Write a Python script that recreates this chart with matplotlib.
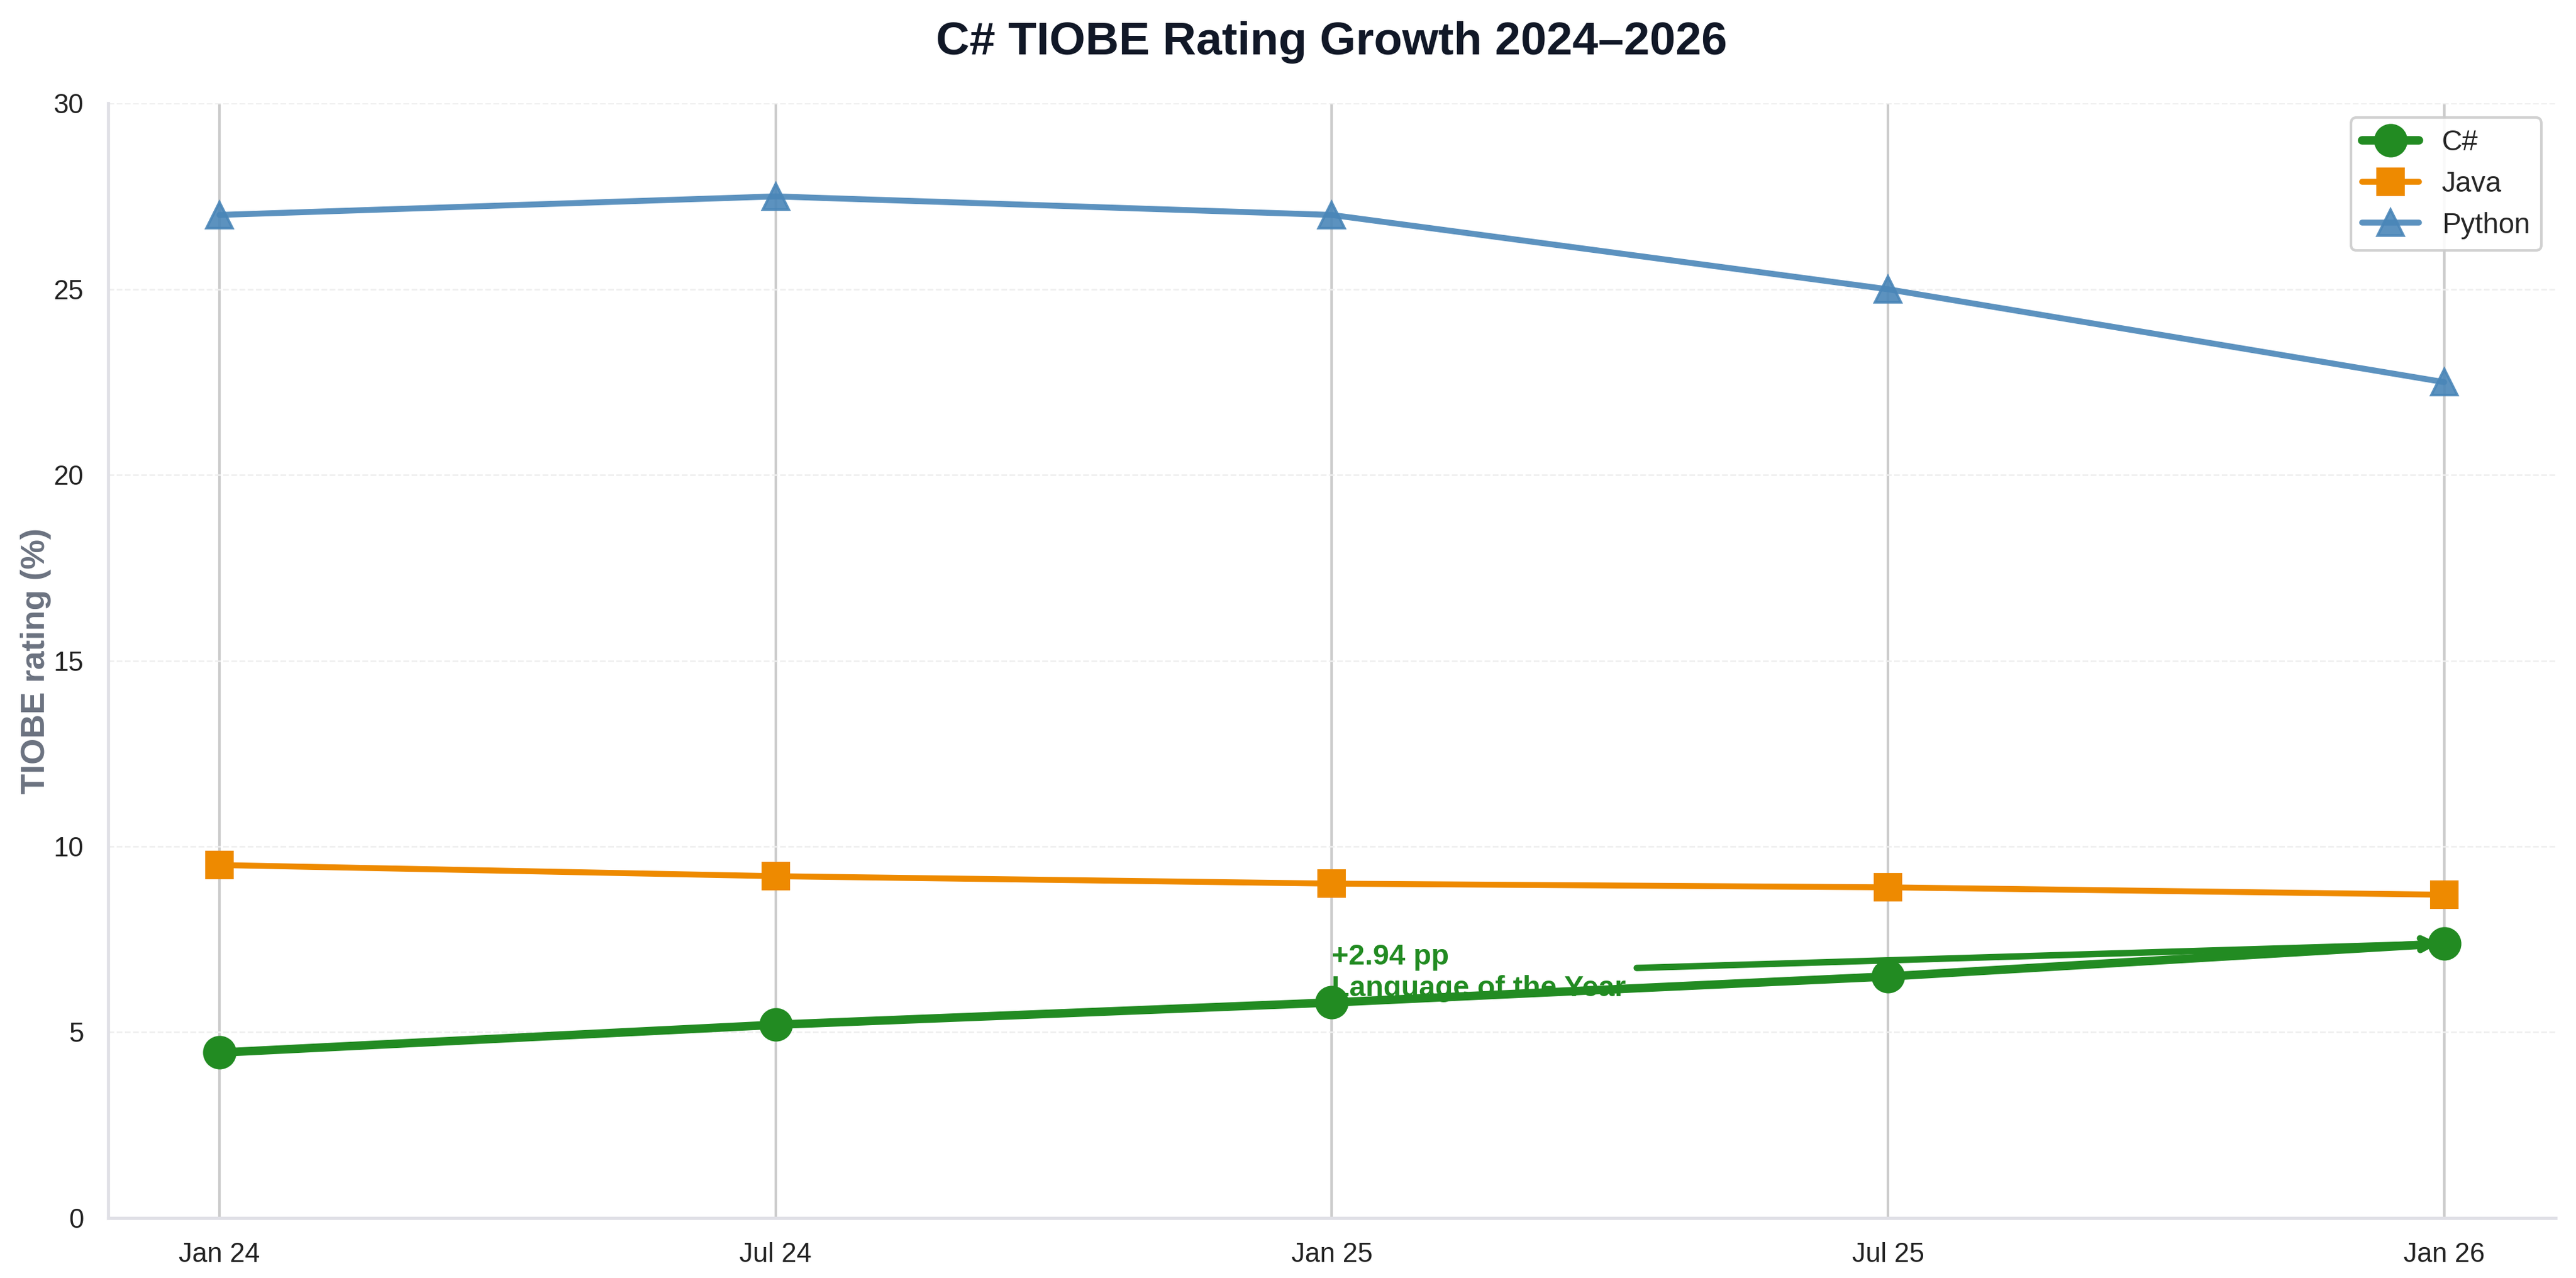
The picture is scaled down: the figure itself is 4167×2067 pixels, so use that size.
import matplotlib
matplotlib.use("Agg")
import matplotlib.pyplot as plt
import seaborn as sns

# data
periods = ["Jan 24", "Jul 24", "Jan 25", "Jul 25", "Jan 26"]
csharp = [4.45, 5.2, 5.8, 6.5, 7.39]
java = [9.5, 9.2, 9.0, 8.9, 8.7]
python = [27.0, 27.5, 27.0, 25.0, 22.5]

sns.set_theme(style="whitegrid")
plt.rcParams['font.family'] = ['Liberation Sans', 'DejaVu Sans']

fig = plt.figure(figsize=(4167/300, 2067/300), dpi=300)
ax = fig.add_axes([0.042, 0.047, 0.950, 0.872])

x = list(range(len(periods)))
ax.plot(x, csharp, color='#228B22', lw=3.3, marker='o', ms=12, label='C#', zorder=4)
ax.plot(x, java, color='#EE8A00', lw=2.3, marker='s', ms=10, label='Java', zorder=3)
ax.plot(x, python, color='#4A86B8', lw=2.3, marker='^', ms=10, alpha=0.9, label='Python', zorder=3)

ax.annotate("+2.94 pp\nLanguage of the Year", xy=(x[-1], csharp[-1]), xytext=(x[2], 6.6),
            ha='left', va='center', fontsize=11.3, fontweight='bold', color='#228B22',
            arrowprops=dict(arrowstyle='->', color='#228B22', lw=2.5))

ax.set_xlim(-0.2, 4.2)
ax.set_ylim(0, 30)
ax.set_xticks(x)
ax.set_xticklabels(periods)
ax.tick_params(labelsize=10.5, colors='#222222')
ax.set_ylabel("TIOBE rating (%)", fontsize=13, fontweight='bold', color='#6B7280', labelpad=1)
ax.set_title("C# TIOBE Rating Growth 2024\u20132026", fontsize=18, fontweight='bold',
             color='#111827', pad=19)

ax.xaxis.grid(True, color='#cccccc', linestyle='-', lw=1.0)
ax.yaxis.grid(True, color='#eeeeee', linestyle='--', lw=0.6)
for s in ['top', 'right']:
    ax.spines[s].set_visible(False)
for s in ['left', 'bottom']:
    ax.spines[s].set_color('#e0e0e6')

ax.legend(loc='upper right', fontsize=11, frameon=True, framealpha=0.9)

fig.savefig("out.png", dpi=300)
